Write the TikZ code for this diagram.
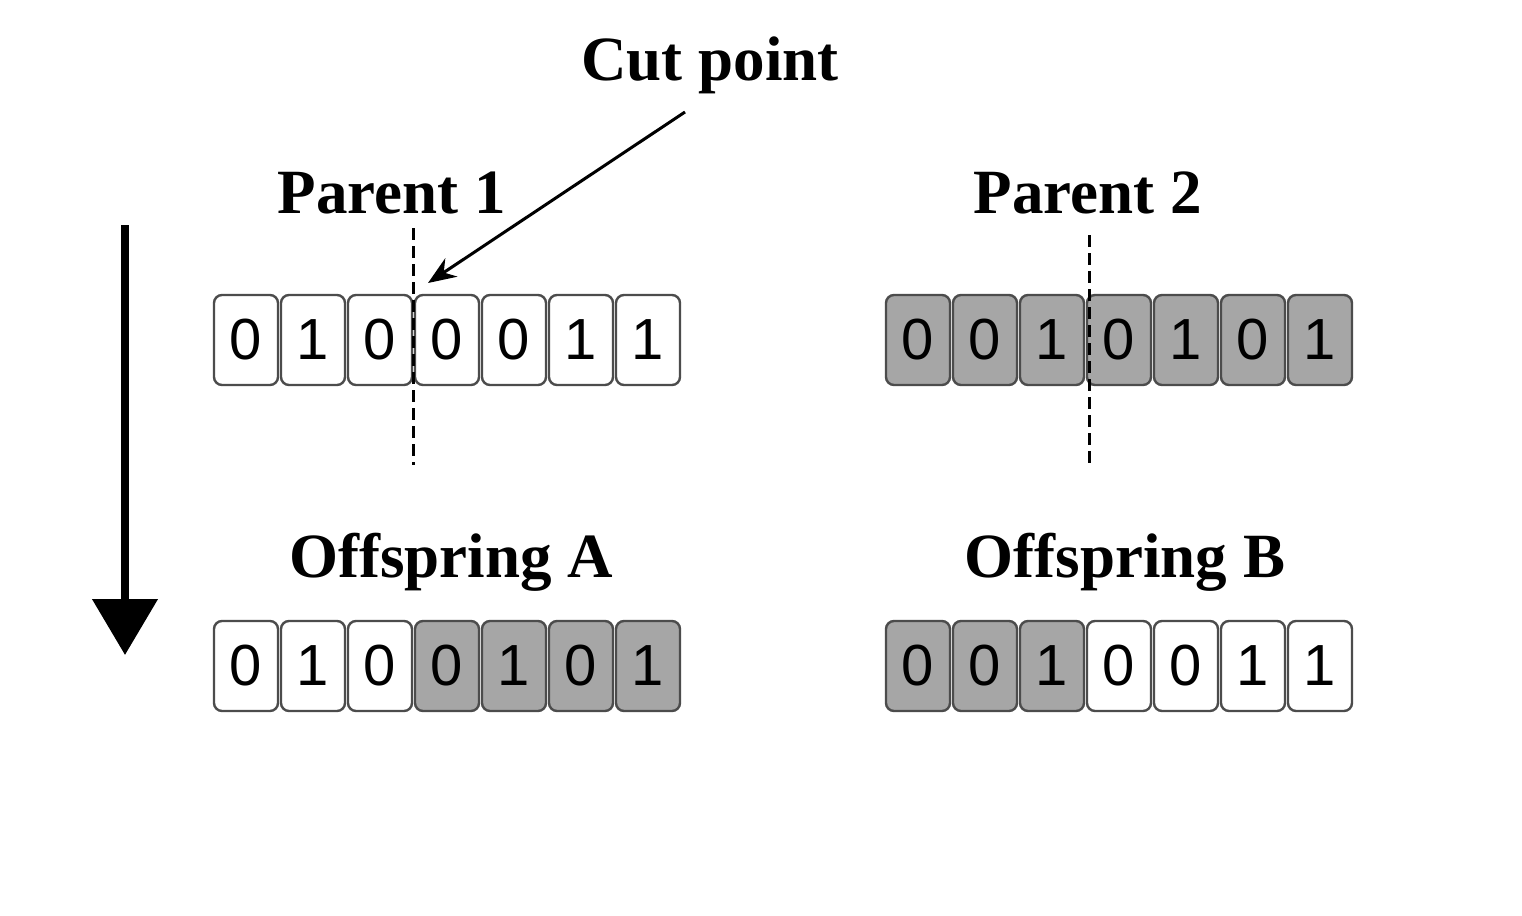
\documentclass[tikz,border=0pt]{standalone}
\usepackage{fontspec}
\setmainfont{Liberation Serif}
\newfontfamily\digitfont{Liberation Sans}
\usetikzlibrary{arrows.meta}
\begin{document}
\begin{tikzpicture}[x=0.5pt,y=-0.5pt,
  cellw/.style={draw=black!70,line width=1.2pt,rounded corners=4pt,minimum width=32pt,minimum height=45pt,inner sep=0pt,fill=white,font=\digitfont\fontsize{29}{29}\selectfont},
  cellg/.style={cellw,fill=black!35},
  lbl/.style={font=\bfseries\fontsize{31.5}{31.5}\selectfont},
  cut/.style={line width=1.5pt,dash pattern=on 6pt off 3pt}]
\useasboundingbox (0,0) rectangle (1522,916);
\fill[white] (0,0) rectangle (1522,916);
\begin{scope}[yshift=-170pt]
\foreach \d [count=\i from 0] in {0,1,0,0,0,1,1}
  \node[cellw] (pa\i) at (246+\i*67,0) {\d};
\foreach \d [count=\i from 0] in {0,0,1,0,1,0,1}
  \node[cellg] (pb\i) at (918+\i*67,0) {\d};
\end{scope}
\begin{scope}[yshift=-333pt]
\foreach \d [count=\i from 0] in {0,1,0}
  \node[cellw] (oa\i) at (246+\i*67,0) {\d};
\foreach \d [count=\i from 3] in {0,1,0,1}
  \node[cellg] (oa\i) at (246+\i*67,0) {\d};
\foreach \d [count=\i from 0] in {0,0,1}
  \node[cellg] (ob\i) at (918+\i*67,0) {\d};
\foreach \d [count=\i from 3] in {0,0,1,1}
  \node[cellw] (ob\i) at (918+\i*67,0) {\d};
\end{scope}
\node[lbl] (cp) at (710,65) {Cut point};
\node[lbl] (p1) at (392,193) {Parent 1};
\node[lbl] (p2) at (1088,193) {Parent 2};
\node[lbl] (oA) at (451,562) {Offspring A};
\node[lbl] (oB) at (1125,562) {Offspring B};
\coordinate (c1t) at (413,228); \coordinate (c1b) at (413,465);
\coordinate (c2t) at (1089,235); \coordinate (c2b) at (1089,465);
\draw[cut] (c1t) -- (c1b);
\draw[cut] (c2t) -- (c2b);
\coordinate (as) at (685,112); \coordinate (ae) at (428,283);
\draw[line width=1.5pt,-{Stealth[length=14pt,width=11pt]}] (as) -- (ae);
\coordinate (bs) at (125,225); \coordinate (be) at (125,655);
\draw[line width=4pt,-{Triangle[length=28pt,width=32pt]}] (bs) -- (be);
\end{tikzpicture}
\end{document}
